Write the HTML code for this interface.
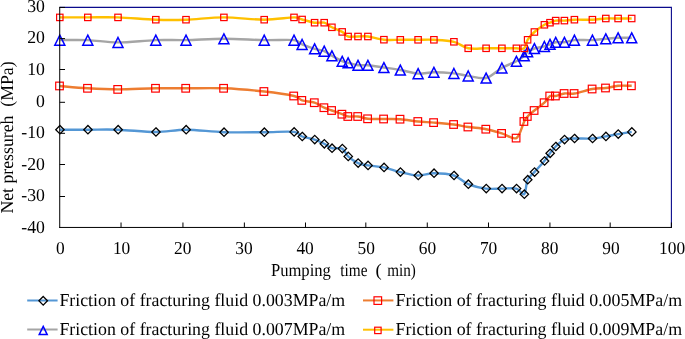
<!DOCTYPE html>
<html lang="en"><head><meta charset="utf-8"><title>Net pressure chart</title>
<style>html,body{margin:0;padding:0;background:#fff}body{width:685px;height:339px;overflow:hidden}svg{display:block}text{font-family:"Liberation Serif","Times New Roman",serif;font-size:18.2px;fill:#000;text-rendering:geometricPrecision}</style></head><body>
<svg width="685" height="339" viewBox="0 0 685 339">
<rect width="685" height="339" fill="#fff"/>
<path d="M59.72 7.42 H671.40 V227.45" fill="none" stroke="#0a0a8c" stroke-width="1.1" stroke-linejoin="miter"/>
<!-- series 0.003 -->
<path d="M59.80 129.70 C64.47 129.70 78.10 129.70 87.80 129.70 C97.50 129.70 106.67 129.32 118.00 129.70 C129.33 130.08 144.47 132.00 155.80 132.00 C167.13 132.00 174.65 129.67 186.00 129.70 C197.35 129.73 210.87 131.78 223.90 132.20 C236.93 132.62 252.52 132.25 264.20 132.20 C275.88 132.15 287.68 131.18 294.00 131.90 C300.32 132.62 298.67 135.22 302.10 136.50 C305.53 137.78 310.92 138.38 314.60 139.60 C318.28 140.82 321.32 142.37 324.20 143.80 C327.08 145.23 328.90 147.40 331.90 148.20 C334.90 149.00 339.50 147.23 342.20 148.60 C344.90 149.97 345.47 153.98 348.10 156.40 C350.73 158.82 354.70 161.60 358.00 163.10 C361.30 164.60 363.58 164.68 367.90 165.40 C372.22 166.12 378.50 166.28 383.90 167.40 C389.30 168.52 394.60 170.75 400.30 172.10 C406.00 173.45 412.50 175.32 418.10 175.50 C423.70 175.68 427.93 173.20 433.90 173.20 C439.87 173.20 448.18 173.67 453.90 175.50 C459.62 177.33 462.83 182.02 468.20 184.20 C473.57 186.38 480.48 187.87 486.10 188.60 C491.72 189.33 496.85 188.60 501.90 188.60 C506.95 188.60 512.68 187.67 516.40 188.60 C520.12 189.53 522.33 195.68 524.20 194.20 C526.07 192.72 525.90 183.38 527.60 179.70 C529.30 176.02 531.60 175.22 534.40 172.10 C537.20 168.98 541.80 164.13 544.40 161.00 C547.00 157.87 548.12 155.72 550.00 153.30 C551.88 150.88 553.30 148.78 555.70 146.50 C558.10 144.22 561.28 140.93 564.40 139.60 C567.52 138.27 569.73 138.68 574.40 138.50 C579.07 138.32 587.17 138.85 592.40 138.50 C597.63 138.15 601.52 137.13 605.80 136.40 C610.08 135.67 613.78 134.85 618.10 134.10 C622.42 133.35 629.43 132.27 631.70 131.90" fill="none" stroke="#5497d5" stroke-width="2.40" stroke-linecap="butt" stroke-linejoin="round"/>
<g fill="none" stroke="#000" stroke-width="1.3" stroke-linejoin="miter"><path d="M59.95 125.50 l4.20 4.20 l-4.20 4.20 l-4.20 -4.20 z"/><path d="M87.95 125.50 l4.20 4.20 l-4.20 4.20 l-4.20 -4.20 z"/><path d="M118.15 125.50 l4.20 4.20 l-4.20 4.20 l-4.20 -4.20 z"/><path d="M155.95 127.80 l4.20 4.20 l-4.20 4.20 l-4.20 -4.20 z"/><path d="M186.15 125.50 l4.20 4.20 l-4.20 4.20 l-4.20 -4.20 z"/><path d="M224.05 128.00 l4.20 4.20 l-4.20 4.20 l-4.20 -4.20 z"/><path d="M264.35 128.00 l4.20 4.20 l-4.20 4.20 l-4.20 -4.20 z"/><path d="M294.15 127.70 l4.20 4.20 l-4.20 4.20 l-4.20 -4.20 z"/><path d="M302.25 132.30 l4.20 4.20 l-4.20 4.20 l-4.20 -4.20 z"/><path d="M314.75 135.40 l4.20 4.20 l-4.20 4.20 l-4.20 -4.20 z"/><path d="M324.35 139.60 l4.20 4.20 l-4.20 4.20 l-4.20 -4.20 z"/><path d="M332.05 144.00 l4.20 4.20 l-4.20 4.20 l-4.20 -4.20 z"/><path d="M342.35 144.40 l4.20 4.20 l-4.20 4.20 l-4.20 -4.20 z"/><path d="M348.25 152.20 l4.20 4.20 l-4.20 4.20 l-4.20 -4.20 z"/><path d="M358.15 158.90 l4.20 4.20 l-4.20 4.20 l-4.20 -4.20 z"/><path d="M368.05 161.20 l4.20 4.20 l-4.20 4.20 l-4.20 -4.20 z"/><path d="M384.05 163.20 l4.20 4.20 l-4.20 4.20 l-4.20 -4.20 z"/><path d="M400.45 167.90 l4.20 4.20 l-4.20 4.20 l-4.20 -4.20 z"/><path d="M418.25 171.30 l4.20 4.20 l-4.20 4.20 l-4.20 -4.20 z"/><path d="M434.05 169.00 l4.20 4.20 l-4.20 4.20 l-4.20 -4.20 z"/><path d="M454.05 171.30 l4.20 4.20 l-4.20 4.20 l-4.20 -4.20 z"/><path d="M468.35 180.00 l4.20 4.20 l-4.20 4.20 l-4.20 -4.20 z"/><path d="M486.25 184.40 l4.20 4.20 l-4.20 4.20 l-4.20 -4.20 z"/><path d="M502.05 184.40 l4.20 4.20 l-4.20 4.20 l-4.20 -4.20 z"/><path d="M516.55 184.40 l4.20 4.20 l-4.20 4.20 l-4.20 -4.20 z"/><path d="M524.35 190.00 l4.20 4.20 l-4.20 4.20 l-4.20 -4.20 z"/><path d="M527.75 175.50 l4.20 4.20 l-4.20 4.20 l-4.20 -4.20 z"/><path d="M534.55 167.90 l4.20 4.20 l-4.20 4.20 l-4.20 -4.20 z"/><path d="M544.55 156.80 l4.20 4.20 l-4.20 4.20 l-4.20 -4.20 z"/><path d="M550.15 149.10 l4.20 4.20 l-4.20 4.20 l-4.20 -4.20 z"/><path d="M555.85 142.30 l4.20 4.20 l-4.20 4.20 l-4.20 -4.20 z"/><path d="M564.55 135.40 l4.20 4.20 l-4.20 4.20 l-4.20 -4.20 z"/><path d="M574.55 134.30 l4.20 4.20 l-4.20 4.20 l-4.20 -4.20 z"/><path d="M592.55 134.30 l4.20 4.20 l-4.20 4.20 l-4.20 -4.20 z"/><path d="M605.95 132.20 l4.20 4.20 l-4.20 4.20 l-4.20 -4.20 z"/><path d="M618.25 129.90 l4.20 4.20 l-4.20 4.20 l-4.20 -4.20 z"/><path d="M631.85 127.70 l4.20 4.20 l-4.20 4.20 l-4.20 -4.20 z"/></g>
<!-- series 0.005 -->
<path d="M59.80 85.95 C64.47 86.34 78.10 87.72 87.80 88.30 C97.50 88.88 106.67 89.40 118.00 89.40 C129.33 89.40 144.47 88.48 155.80 88.30 C167.13 88.12 174.65 88.30 186.00 88.30 C197.35 88.30 210.87 87.77 223.90 88.30 C236.93 88.83 252.52 90.22 264.20 91.50 C275.88 92.78 287.68 94.52 294.00 96.00 C300.32 97.48 298.67 99.28 302.10 100.40 C305.53 101.52 310.92 101.48 314.60 102.70 C318.28 103.92 321.32 106.40 324.20 107.70 C327.08 109.00 328.90 109.42 331.90 110.50 C334.90 111.58 339.50 113.20 342.20 114.20 C344.90 115.20 345.47 116.12 348.10 116.50 C350.73 116.88 354.70 116.12 358.00 116.50 C361.30 116.88 363.58 118.38 367.90 118.80 C372.22 119.22 378.50 118.93 383.90 119.00 C389.30 119.07 394.60 118.78 400.30 119.20 C406.00 119.62 412.50 120.93 418.10 121.50 C423.70 122.07 427.93 122.10 433.90 122.60 C439.87 123.10 448.18 123.77 453.90 124.50 C459.62 125.23 462.83 126.22 468.20 127.00 C473.57 127.78 480.48 128.13 486.10 129.20 C491.72 130.27 496.85 131.92 501.90 133.40 C506.95 134.88 512.68 140.08 516.40 138.10 C520.12 136.12 522.33 125.10 524.20 121.50 C526.07 117.90 525.90 118.33 527.60 116.50 C529.30 114.67 531.60 112.80 534.40 110.50 C537.20 108.20 541.80 105.12 544.40 102.70 C547.00 100.28 548.12 97.12 550.00 96.00 C551.88 94.88 553.30 96.42 555.70 96.00 C558.10 95.58 561.28 93.92 564.40 93.50 C567.52 93.08 569.73 94.25 574.40 93.50 C579.07 92.75 587.17 89.92 592.40 89.00 C597.63 88.08 601.52 88.53 605.80 88.00 C610.08 87.47 613.78 86.17 618.10 85.80 C622.42 85.43 629.43 85.80 631.70 85.80" fill="none" stroke="#ed7d31" stroke-width="2.40" stroke-linecap="butt" stroke-linejoin="round"/>
<g fill="none" stroke="#ff0000" stroke-width="1.2"><rect x="55.70" y="82.15" width="7.60" height="7.60"/><rect x="83.70" y="84.50" width="7.60" height="7.60"/><rect x="113.90" y="85.60" width="7.60" height="7.60"/><rect x="151.70" y="84.50" width="7.60" height="7.60"/><rect x="181.90" y="84.50" width="7.60" height="7.60"/><rect x="219.80" y="84.50" width="7.60" height="7.60"/><rect x="260.10" y="87.70" width="7.60" height="7.60"/><rect x="289.90" y="92.20" width="7.60" height="7.60"/><rect x="298.00" y="96.60" width="7.60" height="7.60"/><rect x="310.50" y="98.90" width="7.60" height="7.60"/><rect x="320.10" y="103.90" width="7.60" height="7.60"/><rect x="327.80" y="106.70" width="7.60" height="7.60"/><rect x="338.10" y="110.40" width="7.60" height="7.60"/><rect x="344.00" y="112.70" width="7.60" height="7.60"/><rect x="353.90" y="112.70" width="7.60" height="7.60"/><rect x="363.80" y="115.00" width="7.60" height="7.60"/><rect x="379.80" y="115.20" width="7.60" height="7.60"/><rect x="396.20" y="115.40" width="7.60" height="7.60"/><rect x="414.00" y="117.70" width="7.60" height="7.60"/><rect x="429.80" y="118.80" width="7.60" height="7.60"/><rect x="449.80" y="120.70" width="7.60" height="7.60"/><rect x="464.10" y="123.20" width="7.60" height="7.60"/><rect x="482.00" y="125.40" width="7.60" height="7.60"/><rect x="497.80" y="129.60" width="7.60" height="7.60"/><rect x="512.30" y="134.30" width="7.60" height="7.60"/><rect x="520.10" y="117.70" width="7.60" height="7.60"/><rect x="523.50" y="112.70" width="7.60" height="7.60"/><rect x="530.30" y="106.70" width="7.60" height="7.60"/><rect x="540.30" y="98.90" width="7.60" height="7.60"/><rect x="545.90" y="92.20" width="7.60" height="7.60"/><rect x="551.60" y="92.20" width="7.60" height="7.60"/><rect x="560.30" y="89.70" width="7.60" height="7.60"/><rect x="570.30" y="89.70" width="7.60" height="7.60"/><rect x="588.30" y="85.20" width="7.60" height="7.60"/><rect x="601.70" y="84.20" width="7.60" height="7.60"/><rect x="614.00" y="82.00" width="7.60" height="7.60"/><rect x="627.60" y="82.00" width="7.60" height="7.60"/></g>
<!-- series 0.007 -->
<path d="M59.80 40.10 C64.47 40.10 78.10 39.72 87.80 40.10 C97.50 40.48 106.67 42.40 118.00 42.40 C129.33 42.40 144.47 40.48 155.80 40.10 C167.13 39.72 174.65 40.33 186.00 40.10 C197.35 39.87 210.87 38.70 223.90 38.70 C236.93 38.70 252.52 39.87 264.20 40.10 C275.88 40.33 287.68 39.38 294.00 40.10 C300.32 40.82 298.67 42.95 302.10 44.40 C305.53 45.85 310.92 47.68 314.60 48.80 C318.28 49.92 321.32 49.95 324.20 51.10 C327.08 52.25 328.90 54.02 331.90 55.70 C334.90 57.38 339.50 60.02 342.20 61.20 C344.90 62.38 345.47 62.13 348.10 62.80 C350.73 63.47 354.70 64.80 358.00 65.20 C361.30 65.60 363.58 64.82 367.90 65.20 C372.22 65.58 378.50 66.70 383.90 67.50 C389.30 68.30 394.60 68.98 400.30 70.00 C406.00 71.02 412.50 73.23 418.10 73.60 C423.70 73.97 427.93 72.23 433.90 72.20 C439.87 72.17 448.18 72.78 453.90 73.40 C459.62 74.02 462.83 75.13 468.20 75.90 C473.57 76.67 480.48 79.33 486.10 78.00 C491.72 76.67 496.85 70.70 501.90 67.90 C506.95 65.10 512.68 63.22 516.40 61.20 C520.12 59.18 522.33 57.40 524.20 55.80 C526.07 54.20 525.90 52.82 527.60 51.60 C529.30 50.38 531.60 49.37 534.40 48.50 C537.20 47.63 541.80 47.10 544.40 46.40 C547.00 45.70 548.12 45.00 550.00 44.30 C551.88 43.60 553.30 42.55 555.70 42.20 C558.10 41.85 561.28 42.55 564.40 42.20 C567.52 41.85 569.73 40.45 574.40 40.10 C579.07 39.75 587.17 40.32 592.40 40.10 C597.63 39.88 601.52 39.18 605.80 38.80 C610.08 38.42 613.78 37.97 618.10 37.80 C622.42 37.63 629.43 37.80 631.70 37.80" fill="none" stroke="#a5a5a5" stroke-width="2.40" stroke-linecap="butt" stroke-linejoin="round"/>
<g fill="none" stroke="#0000ff" stroke-width="1.5" stroke-linejoin="miter"><path d="M59.80 35.20 L64.80 45.15 L54.80 45.15 z"/><path d="M87.80 35.20 L92.80 45.15 L82.80 45.15 z"/><path d="M118.00 37.50 L123.00 47.45 L113.00 47.45 z"/><path d="M155.80 35.20 L160.80 45.15 L150.80 45.15 z"/><path d="M186.00 35.20 L191.00 45.15 L181.00 45.15 z"/><path d="M223.90 33.80 L228.90 43.75 L218.90 43.75 z"/><path d="M264.20 35.20 L269.20 45.15 L259.20 45.15 z"/><path d="M294.00 35.20 L299.00 45.15 L289.00 45.15 z"/><path d="M302.10 39.50 L307.10 49.45 L297.10 49.45 z"/><path d="M314.60 43.90 L319.60 53.85 L309.60 53.85 z"/><path d="M324.20 46.20 L329.20 56.15 L319.20 56.15 z"/><path d="M331.90 50.80 L336.90 60.75 L326.90 60.75 z"/><path d="M342.20 56.30 L347.20 66.25 L337.20 66.25 z"/><path d="M348.10 57.90 L353.10 67.85 L343.10 67.85 z"/><path d="M358.00 60.30 L363.00 70.25 L353.00 70.25 z"/><path d="M367.90 60.30 L372.90 70.25 L362.90 70.25 z"/><path d="M383.90 62.60 L388.90 72.55 L378.90 72.55 z"/><path d="M400.30 65.10 L405.30 75.05 L395.30 75.05 z"/><path d="M418.10 68.70 L423.10 78.65 L413.10 78.65 z"/><path d="M433.90 67.30 L438.90 77.25 L428.90 77.25 z"/><path d="M453.90 68.50 L458.90 78.45 L448.90 78.45 z"/><path d="M468.20 71.00 L473.20 80.95 L463.20 80.95 z"/><path d="M486.10 73.10 L491.10 83.05 L481.10 83.05 z"/><path d="M501.90 63.00 L506.90 72.95 L496.90 72.95 z"/><path d="M516.40 56.30 L521.40 66.25 L511.40 66.25 z"/><path d="M524.20 50.90 L529.20 60.85 L519.20 60.85 z"/><path d="M527.60 46.70 L532.60 56.65 L522.60 56.65 z"/><path d="M534.40 43.60 L539.40 53.55 L529.40 53.55 z"/><path d="M544.40 41.50 L549.40 51.45 L539.40 51.45 z"/><path d="M550.00 39.40 L555.00 49.35 L545.00 49.35 z"/><path d="M555.70 37.30 L560.70 47.25 L550.70 47.25 z"/><path d="M564.40 37.30 L569.40 47.25 L559.40 47.25 z"/><path d="M574.40 35.20 L579.40 45.15 L569.40 45.15 z"/><path d="M592.40 35.20 L597.40 45.15 L587.40 45.15 z"/><path d="M605.80 33.90 L610.80 43.85 L600.80 43.85 z"/><path d="M618.10 32.90 L623.10 42.85 L613.10 42.85 z"/><path d="M631.70 32.90 L636.70 42.85 L626.70 42.85 z"/></g>
<!-- series 0.009 -->
<path d="M59.80 17.40 C64.47 17.40 78.10 17.40 87.80 17.40 C97.50 17.40 106.67 17.02 118.00 17.40 C129.33 17.78 144.47 19.32 155.80 19.70 C167.13 20.08 174.65 20.08 186.00 19.70 C197.35 19.32 210.87 17.40 223.90 17.40 C236.93 17.40 252.52 19.70 264.20 19.70 C275.88 19.70 287.68 17.43 294.00 17.40 C300.32 17.37 298.67 18.62 302.10 19.50 C305.53 20.38 310.92 22.17 314.60 22.70 C318.28 23.23 321.32 21.93 324.20 22.70 C327.08 23.47 328.90 25.77 331.90 27.30 C334.90 28.83 339.50 30.37 342.20 31.90 C344.90 33.43 345.47 35.73 348.10 36.50 C350.73 37.27 354.70 36.50 358.00 36.50 C361.30 36.50 363.58 35.97 367.90 36.50 C372.22 37.03 378.50 39.15 383.90 39.70 C389.30 40.25 394.60 39.78 400.30 39.80 C406.00 39.82 412.50 39.80 418.10 39.80 C423.70 39.80 427.93 39.47 433.90 39.80 C439.87 40.13 448.18 40.38 453.90 41.80 C459.62 43.22 462.83 47.22 468.20 48.30 C473.57 49.38 480.48 48.30 486.10 48.30 C491.72 48.30 496.85 48.30 501.90 48.30 C506.95 48.30 512.68 48.30 516.40 48.30 C520.12 48.30 522.33 49.72 524.20 48.30 C526.07 46.88 525.90 42.52 527.60 39.80 C529.30 37.08 531.60 34.50 534.40 32.00 C537.20 29.50 541.80 26.35 544.40 24.80 C547.00 23.25 548.12 23.40 550.00 22.70 C551.88 22.00 553.30 20.95 555.70 20.60 C558.10 20.25 561.28 20.75 564.40 20.60 C567.52 20.45 569.73 19.85 574.40 19.70 C579.07 19.55 587.17 19.90 592.40 19.70 C597.63 19.50 601.52 18.70 605.80 18.50 C610.08 18.30 613.78 18.50 618.10 18.50 C622.42 18.50 629.43 18.50 631.70 18.50" fill="none" stroke="#ffc000" stroke-width="2.40" stroke-linecap="butt" stroke-linejoin="round"/>
<g fill="none" stroke="#ff0000" stroke-width="1.2"><rect x="56.60" y="14.20" width="6.40" height="6.40"/><rect x="84.60" y="14.20" width="6.40" height="6.40"/><rect x="114.80" y="14.20" width="6.40" height="6.40"/><rect x="152.60" y="16.50" width="6.40" height="6.40"/><rect x="182.80" y="16.50" width="6.40" height="6.40"/><rect x="220.70" y="14.20" width="6.40" height="6.40"/><rect x="261.00" y="16.50" width="6.40" height="6.40"/><rect x="290.80" y="14.20" width="6.40" height="6.40"/><rect x="298.90" y="16.30" width="6.40" height="6.40"/><rect x="311.40" y="19.50" width="6.40" height="6.40"/><rect x="321.00" y="19.50" width="6.40" height="6.40"/><rect x="328.70" y="24.10" width="6.40" height="6.40"/><rect x="339.00" y="28.70" width="6.40" height="6.40"/><rect x="344.90" y="33.30" width="6.40" height="6.40"/><rect x="354.80" y="33.30" width="6.40" height="6.40"/><rect x="364.70" y="33.30" width="6.40" height="6.40"/><rect x="380.70" y="36.50" width="6.40" height="6.40"/><rect x="397.10" y="36.60" width="6.40" height="6.40"/><rect x="414.90" y="36.60" width="6.40" height="6.40"/><rect x="430.70" y="36.60" width="6.40" height="6.40"/><rect x="450.70" y="38.60" width="6.40" height="6.40"/><rect x="465.00" y="45.10" width="6.40" height="6.40"/><rect x="482.90" y="45.10" width="6.40" height="6.40"/><rect x="498.70" y="45.10" width="6.40" height="6.40"/><rect x="513.20" y="45.10" width="6.40" height="6.40"/><rect x="521.00" y="45.10" width="6.40" height="6.40"/><rect x="524.40" y="36.60" width="6.40" height="6.40"/><rect x="531.20" y="28.80" width="6.40" height="6.40"/><rect x="541.20" y="21.60" width="6.40" height="6.40"/><rect x="546.80" y="19.50" width="6.40" height="6.40"/><rect x="552.50" y="17.40" width="6.40" height="6.40"/><rect x="561.20" y="17.40" width="6.40" height="6.40"/><rect x="571.20" y="16.50" width="6.40" height="6.40"/><rect x="589.20" y="16.50" width="6.40" height="6.40"/><rect x="602.60" y="15.30" width="6.40" height="6.40"/><rect x="614.90" y="15.30" width="6.40" height="6.40"/><rect x="628.50" y="15.30" width="6.40" height="6.40"/></g>
<path d="M59.72 6.87 V227.95 M59.22 227.45 H671.95 M59.72 7.42 h5.3 M59.72 38.60 h5.3 M59.72 69.50 h5.3 M59.72 102.30 h5.3 M59.72 133.30 h5.3 M59.72 164.50 h5.3 M59.72 196.50 h5.3 M121.04 227.45 v-4.95 M182.94 227.45 v-4.95 M244.37 227.45 v-4.95 M305.49 227.45 v-4.95 M365.82 227.45 v-4.95 M427.27 227.45 v-4.95 M488.49 227.45 v-4.95 M549.93 227.45 v-4.95 M610.18 227.45 v-4.95 M671.40 227.45 v-4.95" fill="none" stroke="#000" stroke-width="1.0"/>
<g opacity="0.998">
<text transform="translate(44.9 11.50) scale(0.975 1)" text-anchor="end">30</text>
<text transform="translate(44.9 43.20) scale(0.975 1)" text-anchor="end">20</text>
<text transform="translate(44.9 74.60) scale(0.975 1)" text-anchor="end">10</text>
<text transform="translate(44.9 106.85) scale(0.975 1)" text-anchor="end">0</text>
<text transform="translate(44.9 138.20) scale(0.975 1)" text-anchor="end">-10</text>
<text transform="translate(44.9 169.60) scale(0.975 1)" text-anchor="end">-20</text>
<text transform="translate(44.9 201.15) scale(0.975 1)" text-anchor="end">-30</text>
<text transform="translate(44.9 232.60) scale(0.975 1)" text-anchor="end">-40</text>
<text transform="translate(60.45 253.9) scale(0.955 1)" text-anchor="middle">0</text>
<text transform="translate(121.61 253.9) scale(0.955 1)" text-anchor="middle">10</text>
<text transform="translate(182.78 253.9) scale(0.955 1)" text-anchor="middle">20</text>
<text transform="translate(243.94 253.9) scale(0.955 1)" text-anchor="middle">30</text>
<text transform="translate(305.11 253.9) scale(0.955 1)" text-anchor="middle">40</text>
<text transform="translate(366.27 253.9) scale(0.955 1)" text-anchor="middle">50</text>
<text transform="translate(427.44 253.9) scale(0.955 1)" text-anchor="middle">60</text>
<text transform="translate(488.60 253.9) scale(0.955 1)" text-anchor="middle">70</text>
<text transform="translate(549.77 253.9) scale(0.955 1)" text-anchor="middle">80</text>
<text transform="translate(610.94 253.9) scale(0.955 1)" text-anchor="middle">90</text>
<text transform="translate(672.10 253.9) scale(0.955 1)" text-anchor="middle">100</text>
<text y="276.0" xml:space="preserve"><tspan x="270.9" textLength="60.0" lengthAdjust="spacingAndGlyphs">Pumping</tspan><tspan x="332" textLength="8.3" lengthAdjust="spacingAndGlyphs">  </tspan><tspan x="340.3" textLength="27.2" lengthAdjust="spacingAndGlyphs">time</tspan><tspan x="367.5" textLength="7.9" lengthAdjust="spacingAndGlyphs">  </tspan><tspan x="375.4" textLength="6.2" lengthAdjust="spacingAndGlyphs">(</tspan><tspan x="381.6" textLength="5.7" lengthAdjust="spacingAndGlyphs"> </tspan><tspan x="387.3" textLength="28.6" lengthAdjust="spacingAndGlyphs">min)</tspan></text>
<text transform="translate(13.0 213.6) rotate(-90)" textLength="152.2" lengthAdjust="spacingAndGlyphs" xml:space="preserve">Net pressureh  (MPa)</text>
<path d="M27.20 300.50 H57.60" stroke="#5497d5" stroke-width="2.00" fill="none"/>
<g fill="none" stroke="#000" stroke-width="1.3"><path d="M43.20 296.50 l4.30 4.30 l-4.30 4.30 l-4.30 -4.30 z"/></g>
<text x="59.40" y="306.00" textLength="285.8" lengthAdjust="spacingAndGlyphs">Friction of fracturing fluid 0.003MPa/m</text>
<path d="M363.00 300.45 H393.40" stroke="#ed7d31" stroke-width="2.00" fill="none"/>
<g fill="none" stroke="#ff0000" stroke-width="1.2"><rect x="374.00" y="296.80" width="7.60" height="7.60"/></g>
<text x="395.60" y="306.00" textLength="286.5" lengthAdjust="spacingAndGlyphs">Friction of fracturing fluid 0.005MPa/m</text>
<path d="M27.20 329.50 H57.60" stroke="#a5a5a5" stroke-width="2.00" fill="none"/>
<g fill="none" stroke="#0000ff" stroke-width="1.5"><path d="M43.20 326.40 L47.20 334.60 L39.20 334.60 z"/></g>
<text x="59.40" y="334.80" textLength="285.8" lengthAdjust="spacingAndGlyphs">Friction of fracturing fluid 0.007MPa/m</text>
<path d="M363.00 329.70 H393.40" stroke="#ffc000" stroke-width="2.00" fill="none"/>
<g fill="none" stroke="#ff0000" stroke-width="1.2"><rect x="374.70" y="327.20" width="6.40" height="6.40"/></g>
<text x="395.60" y="334.80" textLength="286.5" lengthAdjust="spacingAndGlyphs">Friction of fracturing fluid 0.009MPa/m</text>
</g>
</svg></body></html>
